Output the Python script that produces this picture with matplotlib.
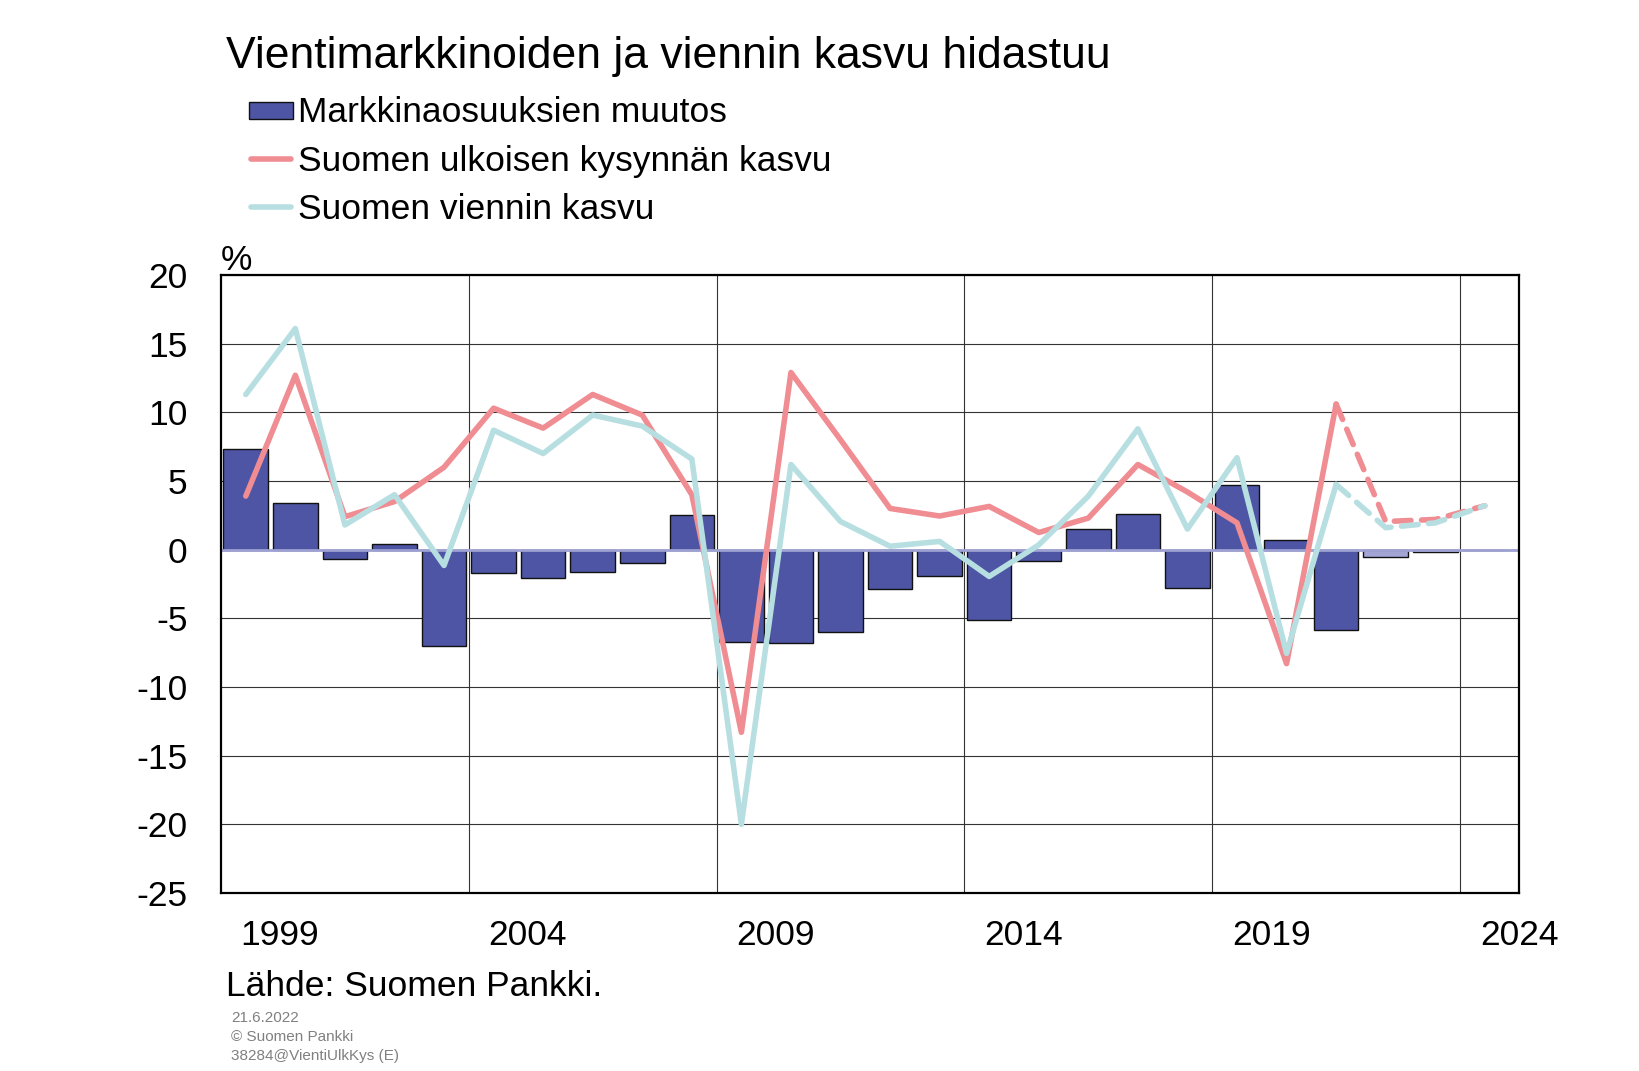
import numpy as np
import matplotlib
matplotlib.use("Agg")
import matplotlib.pyplot as plt
from matplotlib.patches import Rectangle
from matplotlib.lines import Line2D

plt.rcParams["font.family"] = ["Liberation Sans", "DejaVu Sans"]
plt.rcParams["axes.unicode_minus"] = False

years = np.arange(1999, 2025)
# Markkinaosuuksien muutos (2022-2024 ennuste)
market_share = [7.3, 3.4, -0.65, 0.4, -7.0, -1.7, -2.05, -1.6, -0.95, 2.55,
                -6.75, -6.8, -6.0, -2.85, -1.95, -5.1, -0.8, 1.5, 2.6, -2.8,
                4.7, 0.7, -5.85, -0.55, -0.17, 0.0]
# Suomen ulkoisen kysynnän kasvu
demand = [3.9, 12.7, 2.4, 3.5, 6.0, 10.3, 8.85, 11.3, 9.8, 4.0,
          -13.3, 12.9, 8.0, 3.0, 2.45, 3.15, 1.25, 2.3, 6.2, 4.2,
          1.95, -8.3, 10.6, 2.05, 2.2, 3.2]
# Suomen viennin kasvu
exports = [11.3, 16.1, 1.8, 4.0, -1.15, 8.7, 7.0, 9.8, 9.0, 6.6,
           -20.0, 6.2, 2.05, 0.25, 0.6, -1.95, 0.35, 3.9, 8.8, 1.5,
           6.7, -7.55, 4.75, 1.6, 1.95, 3.2]
first_forecast = 2022
label_years = [1999, 2004, 2009, 2014, 2019, 2024]

bar_dark = "#4E55A4"
bar_light = "#A3A6D4"
red = "#F08D93"
blue = "#B7DFE1"
zero_col = "#9EA2D3"

fig = plt.figure(figsize=(16.4, 10.71), dpi=100)
ax = fig.add_axes([221/1640, 1 - 893/1071, 1298/1640, 618/1071])

forecast = years >= first_forecast
colors = [bar_light if f else bar_dark for f in forecast]
ax.bar(years, market_share, width=0.9, color=colors, edgecolor="#111111",
       linewidth=1.0, zorder=2)
ax.axhline(0, color=zero_col, lw=2.0, zorder=3)

lw = 4.0
split = int(np.argmax(forecast))  # index of first forecast year
for vals, col in [(demand, red), (exports, blue)]:
    v = np.array(vals)
    ax.plot(years[:split], v[:split], color=col, lw=lw, zorder=4,
            solid_capstyle="round", solid_joinstyle="round")
    ax.plot(years[split - 1:], v[split - 1:], color=col, lw=lw, zorder=4,
            linestyle=(0, (3.0, 1.9)), dash_capstyle="round",
            dash_joinstyle="round")

ax.set_xlim(1998.5, 2024.46)
ax.set_ylim(-25, 20)
ax.set_yticks(np.arange(-25, 21, 5))
ax.set_xticks(np.array(label_years) + 0.69)
ax.set_xticklabels([str(y) for y in label_years])
ax.set_xticks(np.array(label_years[1:]) - 0.5, minor=True)
ax.tick_params(axis="both", which="both", length=0, labelsize=25.5)
ax.tick_params(axis="y", pad=24)
ax.tick_params(axis="x", pad=19)
ax.grid(True, axis="y", which="major", color="#333333", lw=0.8, zorder=0)
ax.grid(True, axis="x", which="minor", color="#333333", lw=0.8, zorder=0)
ax.set_axisbelow(True)
for s in ax.spines.values():
    s.set_linewidth(1.6)
    s.set_color("black")
    s.set_zorder(5)

# otsikko
fig.text(226/1640, 1 - 68/1071, "Vientimarkkinoiden ja viennin kasvu hidastuu",
         fontsize=32, va="baseline", ha="left")

# selite
leg_items = [("Markkinaosuuksien muutos", "bar", 110),
             ("Suomen ulkoisen kysynnän kasvu", red, 159),
             ("Suomen viennin kasvu", blue, 207)]
for text, kind, yc in leg_items:
    yf = 1 - yc/1071
    if kind == "bar":
        fig.patches.append(Rectangle((249/1640, 1 - (yc + 8.5)/1071), 44/1640, 17/1071,
                                     transform=fig.transFigure, facecolor=bar_dark,
                                     edgecolor="#111111", lw=1.0))
    else:
        fig.lines.append(Line2D([251/1640, 291/1640], [yf, yf], transform=fig.transFigure,
                                color=kind, lw=lw, solid_capstyle="round"))
    fig.text(298/1640, 1 - (yc + 12.5)/1071, text, fontsize=25.5,
             va="baseline", ha="left")

fig.text(221/1640, 1 - 270/1071, "%", fontsize=25.5, va="baseline", ha="left")
fig.text(226/1640, 1 - 996/1071, "Lähde: Suomen Pankki.", fontsize=25.5,
         va="baseline", ha="left")
for i, line in enumerate(["21.6.2022", "© Suomen Pankki", "38284@VientiUlkKys (E)"]):
    fig.text(231/1640, 1 - (1022 + 19*i)/1071, line, fontsize=11,
             color="#808080", va="baseline", ha="left")

fig.savefig("out.png", dpi=100, facecolor="white")
